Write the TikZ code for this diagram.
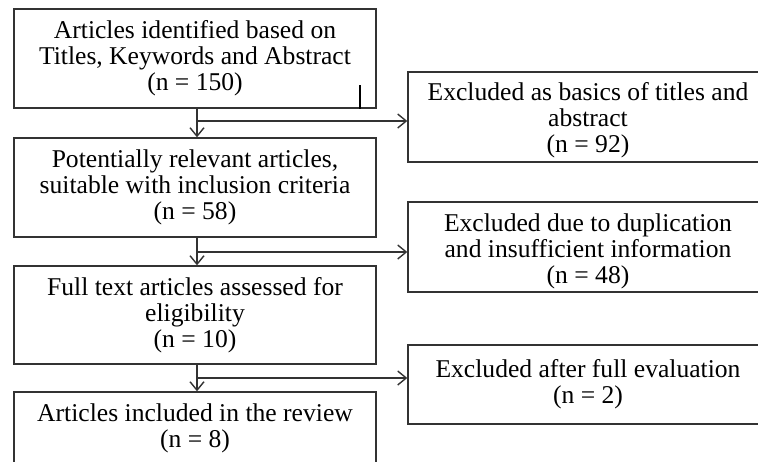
\documentclass[tikz,border=0pt]{standalone}
\usepackage{fontspec}
\setmainfont{Liberation Serif}
\usetikzlibrary{arrows.meta,calc}
\definecolor{linegray}{HTML}{333333}
\begin{document}
\begin{tikzpicture}[x=1pt,y=-1pt,
  txt/.style={align=center, inner sep=0pt, font=\fontsize{25.6}{26}\selectfont},
  box/.style={draw=linegray, line width=1.4pt, inner sep=0pt, txt,
    minimum width=362pt},
  rbox/.style={box, minimum width=360pt},
  arr/.style={draw=linegray, line width=1.3pt,
    -{Straight Barb[length=8.5pt,width=14pt,line width=1.4pt]}}]
\useasboundingbox (0,0) rectangle (758,461);
\clip (0,0) rectangle (758,461);
\fill[white] (0,0) rectangle (758,461);

\node[box, minimum height=99pt] (b1) at (195,58.5)
  {Articles identified based on\\Titles, Keywords and Abstract\\(n = 150)};
\node[box, minimum height=99pt] (b2) at (195,187.5)
  {Potentially relevant articles,\\suitable with inclusion criteria\\(n = 58)};
\node[box, minimum height=98pt] (b3) at (195,315)
  {Full text articles assessed for\\eligibility\\(n = 10)};
\node[box, minimum height=73pt] (b4) at (195,428.5)
  {Articles included in the review\\(n = 8)};

\node[rbox, minimum height=90pt,
  label={[txt, yshift=-3pt]center:Excluded as basics of titles and\\abstract\\(n = 92)}]
  (r1) at (588,117) {};
\node[rbox, minimum height=90pt,
  label={[txt, yshift=-4.5pt]center:Excluded due to duplication\\and insufficient information\\(n = 48)}]
  (r2) at (588,247) {};
\node[rbox, minimum height=79pt] (r3) at (588,384.5)
  {Excluded after full evaluation\\(n = 2)};

\coordinate (j1) at (197,121);
\coordinate (j2) at (197,252);
\coordinate (j3) at (197,378);

\draw[arr] (b1.south -| j1) -- (b2.north -| j1);
\draw[arr] (j1) -- (j1 -| r1.west);
\draw[arr] (b2.south -| j2) -- (b3.north -| j2);
\draw[arr] (j2) -- (j2 -| r2.west);
\draw[arr] (b3.south -| j3) -- (b4.north -| j3);
\draw[arr] (j3) -- (j3 -| r3.west);

\coordinate (t1) at (360,85);
\draw[line width=2.4pt] (t1) -- (t1 |- b1.south);
\end{tikzpicture}
\end{document}
